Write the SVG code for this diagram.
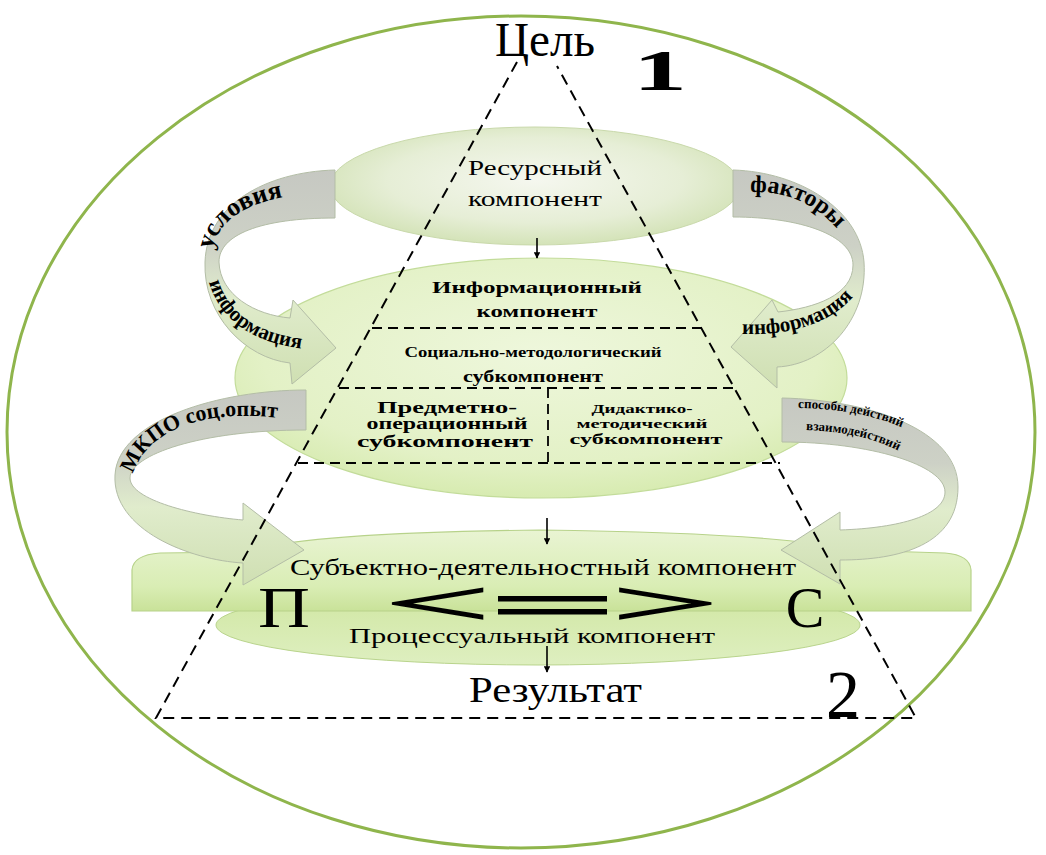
<svg xmlns="http://www.w3.org/2000/svg" width="1046" height="855" viewBox="0 0 1046 855">
<defs>
<radialGradient id="gRes" cx="0.5" cy="0.45" r="0.6">
<stop offset="0" stop-color="#f5f7ef"/><stop offset="0.6" stop-color="#e6eed6"/><stop offset="1" stop-color="#cfe0b0"/>
</radialGradient>
<radialGradient id="gInfo" cx="0.5" cy="0.4" r="0.65">
<stop offset="0" stop-color="#eef7dc"/><stop offset="0.7" stop-color="#e3f1c6"/><stop offset="1" stop-color="#d3e9a9"/>
</radialGradient>
<linearGradient id="gSlab" x1="0" y1="0" x2="0" y2="1">
<stop offset="0" stop-color="#e9f4d3"/><stop offset="0.7" stop-color="#d9edb4"/><stop offset="1" stop-color="#c9e299"/>
</linearGradient>
<linearGradient id="gLow" x1="0" y1="0" x2="0" y2="1">
<stop offset="0" stop-color="#cfe6a0"/><stop offset="1" stop-color="#deefc0"/>
</linearGradient>
<linearGradient id="gRib" x1="0" y1="0" x2="0" y2="1">
<stop offset="0" stop-color="#c6c8c2"/><stop offset="0.35" stop-color="#cdd1c6"/><stop offset="0.6" stop-color="#e0eccc"/><stop offset="1" stop-color="#cfdfb2"/>
</linearGradient>
<marker id="ah" viewBox="0 0 10 10" refX="9" refY="5" markerWidth="4" markerHeight="4" orient="auto">
<path d="M0,0 L10,5 L0,10 Z" fill="#000"/>
</marker>
<style>
.serif{font-family:"Liberation Serif","DejaVu Serif",serif;fill:#000}
.b{font-weight:bold}
.rib{fill:url(#gRib);stroke:#b3bda6;stroke-width:1}
.dash{fill:none;stroke:#000;stroke-width:2;stroke-dasharray:11 7}
.idash{fill:none;stroke:#000;stroke-width:1.8;stroke-dasharray:10 6}
.sarrow{stroke:#000;stroke-width:1.6;marker-end:url(#ah)}
</style>
<path id="pUsl" d="M212,252 C218,216 255,196 322,193"/>
<path id="pInfL" d="M209,282 C222,325 260,347 320,350"/>
<path id="pFak" d="M748,192 C795,190 832,212 852,252"/>
<path id="pInfR" d="M742,334 C800,336 850,318 868,272"/>
<path id="pMkpo" d="M133,474 C148,428 210,406 292,420"/>
<path id="pSp1" d="M798,408 C860,409 910,423 944,455"/>
<path id="pSp2" d="M806,430 C862,432 902,446 926,472"/>
</defs>
<rect width="1046" height="855" fill="#fff"/>

<g id="outer">
<ellipse cx="521" cy="432" rx="514" ry="416" fill="none" stroke="#8fb54c" stroke-width="3"/>
</g>

<g id="resource">
<ellipse cx="535" cy="186" rx="205" ry="59" fill="url(#gRes)" stroke="#c9d9ab" stroke-width="1"/>
<text class="serif" x="535" y="175" font-size="20" text-anchor="middle" textLength="134" lengthAdjust="spacingAndGlyphs">Ресурсный</text>
<text class="serif" x="535" y="206" font-size="20" text-anchor="middle" textLength="134" lengthAdjust="spacingAndGlyphs">компонент</text>
</g>

<g id="info">
<ellipse cx="541" cy="378" rx="306" ry="120" fill="url(#gInfo)" stroke="#c3dc9a" stroke-width="1.2"/>
<text class="serif b" x="537" y="293" font-size="17" text-anchor="middle" textLength="210" lengthAdjust="spacingAndGlyphs">Информационный</text>
<text class="serif b" x="537" y="317" font-size="17" text-anchor="middle" textLength="121" lengthAdjust="spacingAndGlyphs">компонент</text>
</g>
<g id="socio">
<text class="serif b" x="533" y="357" font-size="15" text-anchor="middle" textLength="257" lengthAdjust="spacingAndGlyphs">Социально-методологический</text>
<text class="serif b" x="533" y="382" font-size="16" text-anchor="middle" textLength="140" lengthAdjust="spacingAndGlyphs">субкомпонент</text>
</g>
<g id="predmet">
<text class="serif b" x="447" y="413" font-size="16" text-anchor="middle" textLength="140" lengthAdjust="spacingAndGlyphs">Предметно-</text>
<text class="serif b" x="447" y="429" font-size="16" text-anchor="middle" textLength="161" lengthAdjust="spacingAndGlyphs">операционный</text>
<text class="serif b" x="445" y="447" font-size="16" text-anchor="middle" textLength="176" lengthAdjust="spacingAndGlyphs">субкомпонент</text>
</g>
<g id="didakt">
<text class="serif b" x="642" y="413" font-size="13" text-anchor="middle" textLength="101" lengthAdjust="spacingAndGlyphs">Дидактико-</text>
<text class="serif b" x="642" y="428" font-size="13" text-anchor="middle" textLength="131" lengthAdjust="spacingAndGlyphs">методический</text>
<text class="serif b" x="646" y="444" font-size="14" text-anchor="middle" textLength="153" lengthAdjust="spacingAndGlyphs">субкомпонент</text>
</g>

<g id="process">
<ellipse cx="538" cy="625" rx="322" ry="40" fill="url(#gLow)" stroke="#b9d48c" stroke-width="1"/>
</g>
<g id="subject">
<path d="M132,611 L132,570 Q133,555 160,553 L245,552 Q300,533 540,530 Q780,533 850,550 L945,553 Q970,555 971,570 L971,611 Z" fill="url(#gSlab)" stroke="#b7d28a" stroke-width="1.2"/>
<text class="serif" x="543" y="575" font-size="24" text-anchor="middle" textLength="506" lengthAdjust="spacingAndGlyphs">Субъектно-деятельностный компонент</text>
</g>
<g id="process-label">
<text class="serif" x="532" y="643" font-size="21" text-anchor="middle" textLength="366" lengthAdjust="spacingAndGlyphs">Процессуальный компонент</text>
</g>

<g id="ribbons">
<path class="rib" d="M335,170 C265,172 207,205 205,262 C203,315 245,358 290,363 L292,384 L336,348 L293,300 L290,318 C255,315 220,295 219,262 C219,235 260,218 335,218 Z"/>
<path class="rib" d="M733,170 C800,172 860,210 864,262 C868,320 825,365 777,367 L777,388 L731,347 L772,300 L778,312 C815,308 853,295 853,265 C853,235 800,217 733,217 Z"/>
<path class="rib" d="M306,390 C220,390 118,420 115,475 C112,530 190,560 243,563 L243,585 L304,550 L243,503 L243,520 C195,516 130,500 130,478 C130,455 200,430 306,430 Z"/>
<path class="rib" d="M782,398 C870,400 958,430 958,487 C958,545 900,560 840,560 L840,584 L781,550 L840,512 L840,530 C900,528 945,515 945,492 C945,465 870,442 782,442 Z"/>
<text class="serif b" font-size="26"><textPath href="#pUsl" startOffset="2">условия</textPath></text>
<text class="serif b" font-size="21"><textPath href="#pInfL">информация</textPath></text>
<text class="serif b" font-size="24"><textPath href="#pFak" startOffset="2">факторы</textPath></text>
<text class="serif b" font-size="21"><textPath href="#pInfR">информация</textPath></text>
<text class="serif b" font-size="22"><textPath href="#pMkpo">МКПО соц.опыт</textPath></text>
<text class="serif b" font-size="13"><textPath href="#pSp1">способы действий</textPath></text>
<text class="serif b" font-size="13"><textPath href="#pSp2">взаимодействий</textPath></text>
</g>

<g id="pc">
<text class="serif" x="284" y="627" font-size="58" text-anchor="middle" textLength="52" lengthAdjust="spacingAndGlyphs">П</text>
<text class="serif" x="805" y="627" font-size="58" text-anchor="middle">С</text>
<text class="serif" x="385" y="624" font-size="62" stroke="#000" stroke-width="1.6" textLength="105" lengthAdjust="spacingAndGlyphs">&lt;</text>
<rect x="498" y="596" width="109" height="5.5" fill="#000"/>
<rect x="498" y="609" width="109" height="5.5" fill="#000"/>
<text class="serif" x="612" y="624" font-size="62" stroke="#000" stroke-width="1.6" textLength="106" lengthAdjust="spacingAndGlyphs">&gt;</text>
</g>

<g id="connectors">
<line class="sarrow" x1="537" y1="238" x2="537" y2="258"/>
<line class="sarrow" x1="547" y1="518" x2="547" y2="544"/>
<line class="sarrow" x1="547" y1="646" x2="547" y2="672"/>
</g>

<g id="pyramid">
<path class="dash" d="M517,62 L156,718 L916,718 L557,66"/>
<line class="idash" x1="372" y1="328" x2="701" y2="328"/>
<line class="idash" x1="339" y1="388" x2="734" y2="388"/>
<line class="idash" x1="298" y1="463" x2="780" y2="463"/>
<line class="idash" x1="548" y1="388" x2="548" y2="463"/>
</g>

<g id="labels">
<text class="serif" x="495" y="56" font-size="48" textLength="100" lengthAdjust="spacingAndGlyphs">Цель</text>
<text class="serif b" x="633" y="90" font-size="58" textLength="54" lengthAdjust="spacingAndGlyphs">1</text>
<text class="serif" x="469" y="702" font-size="36" textLength="173" lengthAdjust="spacingAndGlyphs">Результат</text>
<text class="serif" x="826" y="717" font-size="68">2</text>
</g>
</svg>
